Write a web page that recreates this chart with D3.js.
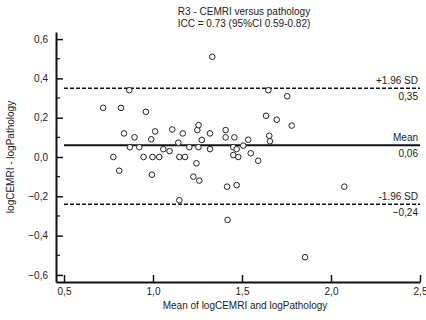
<!DOCTYPE html>
<html>
<head>
<meta charset="utf-8">
<script src="https://cdn.jsdelivr.net/npm/d3@7"></script>
<style>
  body { margin: 0; background: #fff; }
  svg text { font-family: "Liberation Sans", Arial, sans-serif; fill: #222; }
</style>
</head>
<body>
<div id="chart"></div>
<script>
// 数据：每个病例的均值和差值
const meanVals = [
    0.72, 0.777, 0.81, 0.82, 0.837, 0.867, 0.87, 0.896, 0.923, 0.947,
    0.96, 0.99, 0.997, 0.994, 1.012, 1.035, 1.058, 1.093, 1.108, 1.142,
    1.148, 1.148, 1.167, 1.18, 1.204, 1.227, 1.244, 1.249, 1.256, 1.255,
    1.26, 1.274, 1.32, 1.32, 1.333, 1.408, 1.408, 1.416, 1.419, 1.451,
    1.451, 1.457, 1.47, 1.47, 1.479, 1.507, 1.535, 1.549, 1.591, 1.635,
    1.648, 1.653, 1.657, 1.695, 1.754, 1.779, 1.854, 2.075
];
const diffVals = [
    0.25, 0.0, -0.07, 0.25, 0.12, 0.34, 0.05, 0.10, 0.05, 0.0,
    0.23, 0.09, 0.0, -0.09, 0.13, 0.0, 0.04, 0.03, 0.14, 0.073,
    0.0, -0.22, 0.12, 0.0, 0.05, -0.10, -0.032, 0.137, 0.162, 0.05,
    -0.12, 0.087, 0.12, 0.04, 0.51, 0.137, 0.10, -0.151, -0.32, 0.05,
    0.01, 0.10, 0.04, -0.143, 0.0, 0.058, 0.088, 0.019, -0.019, 0.21,
    0.34, 0.108, 0.08, 0.19, 0.309, 0.16, -0.51, -0.151
];

// 参考线：+1.96 SD, Mean, -1.96 SD
const refNames = ["+1.96 SD", "Mean", "-1.96 SD"];
const refValues = [0.35, 0.06, -0.24];
const refDashed = [true, false, true];

// 刻度
const xTicks = [0.5, 1.0, 1.5, 2.0, 2.5];
const yTicks = [-0.6, -0.4, -0.2, 0.0, 0.2, 0.4, 0.6];
const yMinorTicks = [-0.5, -0.3, -0.1, 0.1, 0.3, 0.5];

const titleLines = ["R3 - CEMRI versus pathology", "ICC = 0.73 (95%CI 0.59-0.82)"];

const W = 426, H = 320;
const margin = { top: 32, right: 6, bottom: 38, left: 56 };
const width = W - margin.left - margin.right;
const height = H - margin.top - margin.bottom;

const svg = d3.select("#chart").append("svg")
    .attr("width", W)
    .attr("height", H);

const g = svg.append("g")
    .attr("transform", `translate(${margin.left},${margin.top})`);

const x = d3.scaleLinear().domain([0.455, 2.5]).range([0, width]);
const y = d3.scaleLinear().domain([-0.636, 0.636]).range([height, 0]);

const comma = d => d3.format(".1f")(d).replace(".", ",");

// 标题
svg.selectAll(".title")
    .data(titleLines)
    .enter().append("text")
    .attr("x", 244)
    .attr("y", (d, i) => 15 + i * 12)
    .attr("text-anchor", "middle")
    .style("font-size", "10px")
    .text(d => d);

// 参考线
refValues.forEach((v, i) => {
    g.append("line")
        .attr("x1", x(0.5)).attr("x2", x(2.5))
        .attr("y1", y(v)).attr("y2", y(v))
        .attr("stroke", "#111")
        .attr("stroke-width", refDashed[i] ? 1.5 : 2)
        .attr("stroke-dasharray", refDashed[i] ? "4,2" : null);

    g.append("text")
        .attr("x", x(2.5) - 2)
        .attr("y", y(v) - 4)
        .attr("text-anchor", "end")
        .style("font-size", "10px")
        .text(refNames[i]);

    g.append("text")
        .attr("x", x(2.5) - 2)
        .attr("y", y(v) + 12)
        .attr("text-anchor", "end")
        .style("font-size", "10px")
        .text(d3.format(".2f")(v).replace(".", ","));
});

// 散点
g.selectAll(".dot")
    .data(meanVals.map((m, i) => ({ m: m, d: diffVals[i] })))
    .enter().append("circle")
    .attr("class", "dot")
    .attr("cx", d => x(d.m))
    .attr("cy", d => y(d.d))
    .attr("r", 2.8)
    .attr("fill", "#fff")
    .attr("stroke", "#222")
    .attr("stroke-width", 1);

// X 轴（刻度朝内）
const xAxis = g.append("g")
    .attr("transform", `translate(0,${height})`)
    .call(d3.axisBottom(x).tickValues(xTicks).tickFormat(comma).tickSizeInner(-7).tickSizeOuter(0).tickPadding(6));
xAxis.select(".domain").attr("stroke-width", 2).attr("stroke", "#111");
xAxis.selectAll(".tick line").attr("stroke-width", 1.5).attr("stroke", "#111");
xAxis.selectAll("text").style("font-size", "10px").attr("fill", "#222");

// Y 轴（刻度朝内）
const yAxis = g.append("g")
    .call(d3.axisLeft(y).tickValues(yTicks).tickFormat(comma).tickSizeInner(-7).tickSizeOuter(0).tickPadding(8));
yAxis.select(".domain").attr("stroke-width", 2).attr("stroke", "#111");
yAxis.selectAll(".tick line").attr("stroke-width", 1.5).attr("stroke", "#111");
yAxis.selectAll("text").style("font-size", "10px").attr("fill", "#222");

// Y 次刻度
g.selectAll(".minor")
    .data(yMinorTicks)
    .enter().append("line")
    .attr("x1", 0).attr("x2", 4)
    .attr("y1", d => y(d)).attr("y2", d => y(d))
    .attr("stroke", "#111")
    .attr("stroke-width", 1.2);

// 轴标题
svg.append("text")
    .attr("x", 245)
    .attr("y", 309)
    .attr("text-anchor", "middle")
    .style("font-size", "10px")
    .text("Mean of logCEMRI and logPathology");

svg.append("text")
    .attr("transform", `translate(14,157) rotate(-90)`)
    .attr("text-anchor", "middle")
    .style("font-size", "10px")
    .text("logCEMRI - logPathology");
</script>
</body>
</html>
